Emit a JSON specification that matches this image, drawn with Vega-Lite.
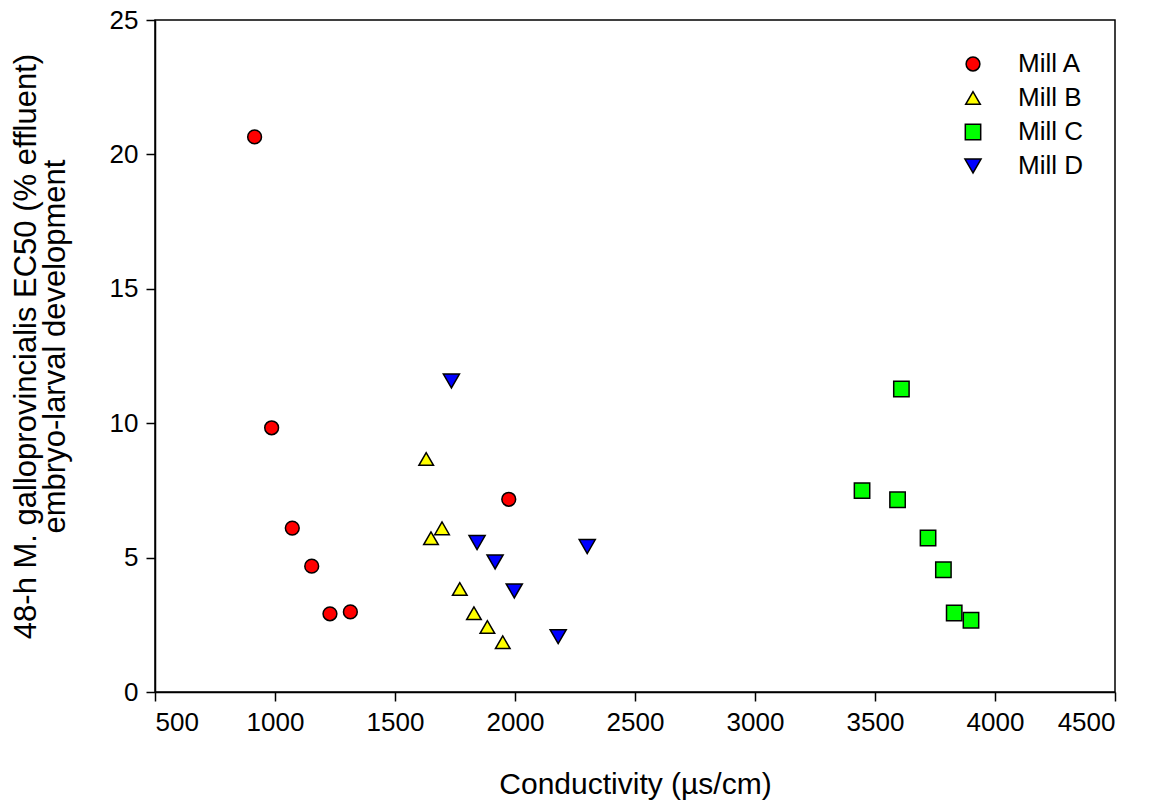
{
  "$schema": "https://vega.github.io/schema/vega-lite/v6.json",
  "width": 960,
  "height": 672,
  "autosize": {"type": "none"},
  "padding": {"left": 155, "top": 20, "right": 37, "bottom": 116},
  "background": "white",
  "config": {
    "font": "Liberation Sans",
    "view": {"stroke": "black", "strokeWidth": 1.5},
    "axis": {"grid": false, "domainColor": "black", "domainWidth": 1.5, "tickColor": "black", "tickWidth": 1.5, "tickSize": 9, "labelColor": "black", "titleColor": "black", "labelFontSize": 26, "titleFontWeight": "normal", "labelFont": "Liberation Sans", "titleFont": "Liberation Sans"}
  },
  "data": {
    "values": [
      {"mill": "Mill A", "conductivity": 915, "ec50": 20.65},
      {"mill": "Mill A", "conductivity": 986, "ec50": 9.83},
      {"mill": "Mill A", "conductivity": 1072, "ec50": 6.1},
      {"mill": "Mill A", "conductivity": 1153, "ec50": 4.68},
      {"mill": "Mill A", "conductivity": 1229, "ec50": 2.91},
      {"mill": "Mill A", "conductivity": 1314, "ec50": 2.98},
      {"mill": "Mill A", "conductivity": 1974, "ec50": 7.17},
      {"mill": "Mill B", "conductivity": 1630, "ec50": 8.67},
      {"mill": "Mill B", "conductivity": 1696, "ec50": 6.09},
      {"mill": "Mill B", "conductivity": 1650, "ec50": 5.72},
      {"mill": "Mill B", "conductivity": 1770, "ec50": 3.83},
      {"mill": "Mill B", "conductivity": 1829, "ec50": 2.93},
      {"mill": "Mill B", "conductivity": 1885, "ec50": 2.42},
      {"mill": "Mill B", "conductivity": 1949, "ec50": 1.85},
      {"mill": "Mill C", "conductivity": 3610, "ec50": 11.27},
      {"mill": "Mill C", "conductivity": 3446, "ec50": 7.49},
      {"mill": "Mill C", "conductivity": 3594, "ec50": 7.15},
      {"mill": "Mill C", "conductivity": 3721, "ec50": 5.73},
      {"mill": "Mill C", "conductivity": 3785, "ec50": 4.55},
      {"mill": "Mill C", "conductivity": 3830, "ec50": 2.94},
      {"mill": "Mill C", "conductivity": 3900, "ec50": 2.67},
      {"mill": "Mill D", "conductivity": 1735, "ec50": 11.57},
      {"mill": "Mill D", "conductivity": 1842, "ec50": 5.56},
      {"mill": "Mill D", "conductivity": 1917, "ec50": 4.84},
      {"mill": "Mill D", "conductivity": 1997, "ec50": 3.76},
      {"mill": "Mill D", "conductivity": 2301, "ec50": 5.41},
      {"mill": "Mill D", "conductivity": 2180, "ec50": 2.06}
    ]
  },
  "mark": {"type": "point", "filled": true, "opacity": 1, "stroke": "black", "strokeWidth": 1.5},
  "encoding": {
    "x": {"field": "conductivity", "type": "quantitative", "scale": {"domain": [500, 4500], "nice": false, "zero": false}, "axis": {"values": [500, 1000, 1500, 2000, 2500, 3000, 3500, 4000, 4500], "format": "d", "title": "Conductivity (µs/cm)", "titleFontSize": 30, "labelPadding": 8, "titlePadding": 34}},
    "y": {"field": "ec50", "type": "quantitative", "scale": {"domain": [0, 25], "nice": false}, "axis": {"values": [0, 5, 10, 15, 20, 25], "format": "d", "title": ["48-h M. galloprovincialis EC50 (% effluent)", "embryo-larval development"], "titleFontSize": 31, "titleLineHeight": 29, "titleY": 326, "labelPadding": 8, "titlePadding": 38}},
    "color": {"field": "mill", "type": "nominal", "scale": {"domain": ["Mill A", "Mill B", "Mill C", "Mill D"], "range": ["#ff0000", "#ffff00", "#00ff00", "#0000ff"]}, "legend": {"title": null, "orient": "none", "legendX": 805, "legendY": 31, "labelFontSize": 26, "labelColor": "black", "labelFont": "Liberation Sans", "labelOffset": 32, "rowPadding": 8, "symbolSize": 220, "symbolStrokeColor": "black", "symbolStrokeWidth": 1.5, "symbolOpacity": 1}},
    "shape": {"field": "mill", "type": "nominal", "scale": {"domain": ["Mill A", "Mill B", "Mill C", "Mill D"], "range": ["circle", "triangle-up", "square", "triangle-down"]}},
    "size": {"field": "mill", "type": "nominal", "scale": {"domain": ["Mill A", "Mill B", "Mill C", "Mill D"], "range": [190, 260, 190, 260]}, "legend": null}
  }
}
